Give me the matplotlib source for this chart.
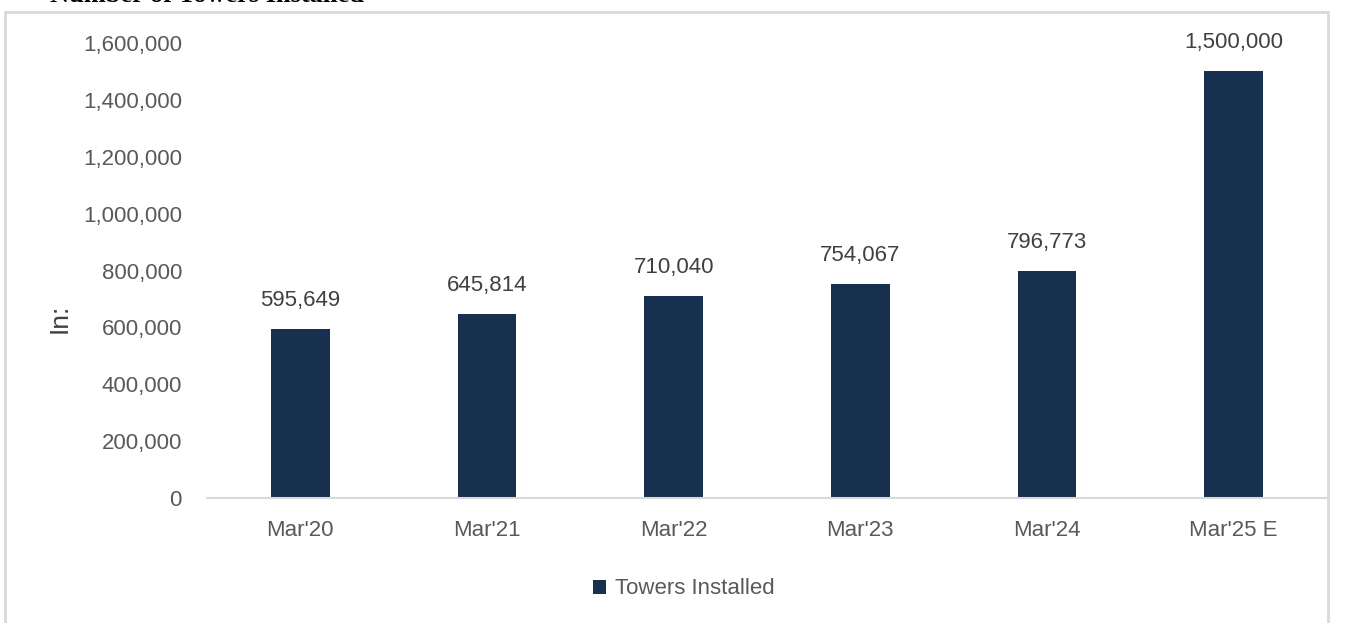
import matplotlib
matplotlib.use('Agg')
import matplotlib.pyplot as plt
from matplotlib.patches import Rectangle

years = ["Mar'20", "Mar'21", "Mar'22", "Mar'23", "Mar'24", "Mar'25 E"]
towers = [595649, 645814, 710040, 754067, 796773, 1500000]
yticks = [0, 200000, 400000, 600000, 800000, 1000000, 1200000, 1400000, 1600000]

bar_color = '#17304f'
text_color = '#595959'
grid_gray = '#d9d9d9'

plt.rcParams['font.family'] = ['Liberation Sans', 'DejaVu Sans']

fig = plt.figure(figsize=(13.62, 6.23), dpi=100)
ax = fig.add_axes([207 / 1362, 125 / 623, 1120 / 1362, 455 / 623])

x = range(len(years))
bars = ax.bar(x, towers, width=0.316, color=bar_color, label='Towers Installed')
ax.set_xlim(-0.5, len(years) - 0.5)
ax.set_ylim(0, 1600000)

# value labels above each bar
for xi, v in zip(x, towers):
    ax.annotate(f"{v:,}", (xi, v), xytext=(0, 13), textcoords='offset points',
                ha='center', va='bottom', fontsize=16, color='#404040')

ax.set_xticks(list(x))
ax.set_xticklabels(years, fontsize=16, color=text_color)
ax.set_yticks(yticks)
ax.set_yticklabels([f"{t:,}" for t in yticks], fontsize=16, color=text_color)
ax.tick_params(axis='x', length=0, pad=16)
ax.tick_params(axis='y', length=0, pad=18)

for s in ['top', 'right', 'left']:
    ax.spines[s].set_visible(False)
ax.spines['bottom'].set_color(grid_gray)
ax.spines['bottom'].set_linewidth(1.5)

ax.legend(loc='center', bbox_to_anchor=(684 / 1362, 34 / 623), bbox_transform=fig.transFigure,
          frameon=False, fontsize=16, labelcolor=text_color, handlelength=0.6,
          handleheight=0.6, handletextpad=0.4)

# outer chart frame
fig.patches.append(Rectangle((5 / 1362, -0.1), 1323 / 1362, 1.1 - 12 / 623,
                             transform=fig.transFigure, fill=False,
                             edgecolor=grid_gray, linewidth=2))

# title sits partly above the frame
fig.text(50 / 1362, 1 - 1.5 / 623, 'Number of Towers Installed', family='Liberation Serif',
         fontsize=19, fontweight='bold', color='black', ha='left', va='baseline')

fig.text(60 / 1362, 1 - 318 / 623, 'In:', rotation=90, fontsize=19,
         color='#404040', ha='center', va='center')

plt.savefig('out.png', dpi=100)
